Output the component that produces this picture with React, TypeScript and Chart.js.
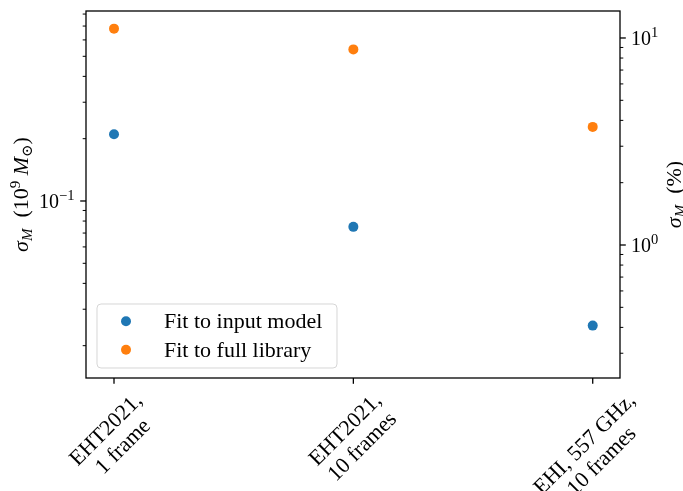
import { useEffect, useRef } from 'react';
import { Chart, registerables } from 'chart.js';

Chart.register(...registerables);

// Observation setups along the horizontal axis (line breaks are kept in the labels)
const categories = ['EHT2021,\n1 frame', 'EHT2021,\n10 frames', 'EHI, 557 GHz,\n10 frames'];

// Mass uncertainty sigma_M in units of 1e9 solar masses
const fitToInputModel = [0.21, 0.075, 0.025];
const fitToFullLibrary = [0.68, 0.54, 0.228];

const seriesNames = ['Fit to input model', 'Fit to full library'];
const seriesColors = ['#1f77b4', '#ff7f0e'];

// Axis limits (the right axis shows the same uncertainty as a percentage of the mass)
const categoryRange = [-0.117, 2.114];
const massRange = [0.01396, 0.8276];
const percentRange = [0.2278, 13.5];

// Tick marks for the two logarithmic axes
const massMajorTicks = [0.1];
const massMajorLabels = [['10', '\u22121']];
const massMinorTicks = [0.02, 0.03, 0.04, 0.05, 0.06, 0.07, 0.08, 0.09, 0.2, 0.3, 0.4, 0.5, 0.6, 0.7, 0.8];
const percentMajorTicks = [1, 10];
const percentMajorLabels = [['10', '0'], ['10', '1']];
const percentMinorTicks = [0.3, 0.4, 0.5, 0.6, 0.7, 0.8, 0.9, 2, 3, 4, 5, 6, 7, 8, 9];

const SERIF = '"Liberation Serif", "DejaVu Serif", serif';
const TEXT = 22;
const SMALL = 15;

type Run = { t: string; it?: boolean; sz?: number; dy?: number };

function fontOf(r: Run) {
  return `${r.it ? 'italic ' : ''}${r.sz ?? TEXT}px ${SERIF}`;
}

function runsWidth(ctx: CanvasRenderingContext2D, runs: Run[]) {
  let w = 0;
  for (const r of runs) {
    ctx.font = fontOf(r);
    w += ctx.measureText(r.t).width;
  }
  return w;
}

function drawRuns(ctx: CanvasRenderingContext2D, runs: Run[], x: number, baseline: number) {
  let cx = x;
  ctx.textAlign = 'left';
  ctx.textBaseline = 'alphabetic';
  for (const r of runs) {
    ctx.font = fontOf(r);
    ctx.fillText(r.t, cx, baseline + (r.dy ?? 0));
    cx += ctx.measureText(r.t).width;
  }
}

function powerRuns(mant: string, exp: string): Run[] {
  return [
    { t: mant, sz: 20 },
    { t: exp, sz: 14.5, dy: -8 },
  ];
}

const massTitle: Run[] = [
  { t: '\u03c3', it: true },
  { t: 'M', it: true, sz: SMALL, dy: 4 },
  { t: '  (10' },
  { t: '9', sz: SMALL, dy: -8 },
  { t: ' ' },
  { t: 'M', it: true },
  { t: '\u2299', sz: SMALL, dy: 4 },
  { t: ')' },
];

const percentTitle: Run[] = [
  { t: '\u03c3', it: true },
  { t: 'M', it: true, sz: SMALL, dy: 4 },
  { t: '  (%)' },
];

function verticalTitle(ctx: CanvasRenderingContext2D, runs: Run[], cx: number, cy: number) {
  const w = runsWidth(ctx, runs);
  ctx.save();
  ctx.translate(cx, cy);
  ctx.rotate(-Math.PI / 2);
  drawRuns(ctx, runs, -w / 2, 7);
  ctx.restore();
}

function hTick(ctx: CanvasRenderingContext2D, x: number, y: number, len: number, lw: number) {
  ctx.lineWidth = lw;
  ctx.beginPath();
  ctx.moveTo(x, y);
  ctx.lineTo(x + len, y);
  ctx.stroke();
}

const decorations = {
  id: 'decorations',
  beforeDraw(chart: any) {
    const ctx: CanvasRenderingContext2D = chart.ctx;
    ctx.save();
    ctx.fillStyle = '#ffffff';
    ctx.fillRect(0, 0, chart.width, chart.height);
    ctx.restore();
  },
  afterDraw(chart: any) {
    const ctx: CanvasRenderingContext2D = chart.ctx;
    const { left, right, top, bottom } = chart.chartArea;
    const xs = chart.scales.x;
    const ys = chart.scales.y;
    const ys1 = chart.scales.y1;
    const MAJOR = 5.8;
    const MINOR = 3.3;

    ctx.save();
    ctx.strokeStyle = '#000';
    ctx.fillStyle = '#000';

    // frame
    ctx.lineWidth = 1.3;
    ctx.strokeRect(left, top, right - left, bottom - top);

    // left axis ticks and labels
    massMinorTicks.forEach((v) => hTick(ctx, left, ys.getPixelForValue(v), -MINOR, 1));
    massMajorTicks.forEach((v, i) => {
      const y = ys.getPixelForValue(v);
      hTick(ctx, left, y, -MAJOR, 1.3);
      const runs = powerRuns(massMajorLabels[i][0], massMajorLabels[i][1]);
      const w = runsWidth(ctx, runs);
      drawRuns(ctx, runs, left - MAJOR - 5.8 - w, y + 7);
    });

    // right axis ticks and labels
    percentMinorTicks.forEach((v) => hTick(ctx, right, ys1.getPixelForValue(v), MINOR, 1));
    percentMajorTicks.forEach((v, i) => {
      const y = ys1.getPixelForValue(v);
      hTick(ctx, right, y, MAJOR, 1.3);
      drawRuns(ctx, powerRuns(percentMajorLabels[i][0], percentMajorLabels[i][1]), right + MAJOR + 5.2, y + 7);
    });

    // bottom axis ticks and rotated labels
    categories.forEach((label, i) => {
      const x = xs.getPixelForValue(i);
      ctx.lineWidth = 1.3;
      ctx.beginPath();
      ctx.moveTo(x, bottom);
      ctx.lineTo(x, bottom + MAJOR);
      ctx.stroke();

      const lines = label.split('\n');
      ctx.font = `${TEXT}px ${SERIF}`;
      const w = Math.max(...lines.map((l) => ctx.measureText(l).width));
      const lineH = 24;
      const side = (w + lines.length * lineH) * Math.SQRT1_2;
      const cx = x;
      const cy = bottom + 10 + side / 2;
      ctx.save();
      ctx.translate(cx, cy);
      ctx.rotate(-Math.PI / 4);
      ctx.textAlign = 'center';
      ctx.textBaseline = 'alphabetic';
      lines.forEach((l, j) => {
        ctx.fillText(l, 0, (j - (lines.length - 1) / 2) * lineH + 7);
      });
      ctx.restore();
    });

    // axis titles
    verticalTitle(ctx, massTitle, 21, (top + bottom) / 2);
    verticalTitle(ctx, percentTitle, 674, (top + bottom) / 2);

    // legend
    const bx = left + 11;
    const by = top + 293;
    const bw = 240;
    const bh = 64;
    ctx.beginPath();
    ctx.roundRect(bx, by, bw, bh, 4);
    ctx.fillStyle = 'rgba(255,255,255,0.8)';
    ctx.fill();
    ctx.lineWidth = 1;
    ctx.strokeStyle = 'rgba(204,204,204,0.8)';
    ctx.stroke();
    chart.data.datasets.forEach((ds: any, i: number) => {
      const cy = by + 17.3 + i * 28.5;
      ctx.beginPath();
      ctx.arc(bx + 29, cy, 5, 0, Math.PI * 2);
      ctx.fillStyle = ds.backgroundColor;
      ctx.fill();
      ctx.fillStyle = '#000';
      ctx.font = `${TEXT}px ${SERIF}`;
      ctx.textAlign = 'left';
      ctx.textBaseline = 'alphabetic';
      ctx.fillText(ds.label, bx + 67, cy + 7);
    });

    ctx.restore();
  },
};

export default function App() {
  const ref = useRef<HTMLCanvasElement>(null);

  useEffect(() => {
    document.body.style.margin = '0';
    const canvas = ref.current!;
    const chart = new Chart(canvas, {
      type: 'scatter',
      data: {
        datasets: [
          {
            label: seriesNames[0],
            data: fitToInputModel.map((v, i) => ({ x: i, y: v })),
            backgroundColor: seriesColors[0],
            borderColor: seriesColors[0],
            pointRadius: 5,
            borderWidth: 0,
            yAxisID: 'y',
          },
          {
            label: seriesNames[1],
            data: fitToFullLibrary.map((v, i) => ({ x: i, y: v })),
            backgroundColor: seriesColors[1],
            borderColor: seriesColors[1],
            pointRadius: 5,
            borderWidth: 0,
            yAxisID: 'y',
          },
        ],
      },
      options: {
        responsive: false,
        animation: false,
        events: [],
        layout: { padding: { left: 86, right: 63, top: 11, bottom: 113 } },
        scales: {
          x: { type: 'linear', min: categoryRange[0], max: categoryRange[1], display: false },
          y: { type: 'logarithmic', min: massRange[0], max: massRange[1], display: false },
          y1: { type: 'logarithmic', position: 'right', min: percentRange[0], max: percentRange[1], display: false },
        },
        plugins: { legend: { display: false }, tooltip: { enabled: false } },
      },
      plugins: [decorations],
    });
    return () => chart.destroy();
  }, []);

  return (
    <div style={{ position: 'absolute', left: 0, top: 0, width: 683, height: 491 }}>
      <canvas ref={ref} width={683} height={491} />
    </div>
  );
}
